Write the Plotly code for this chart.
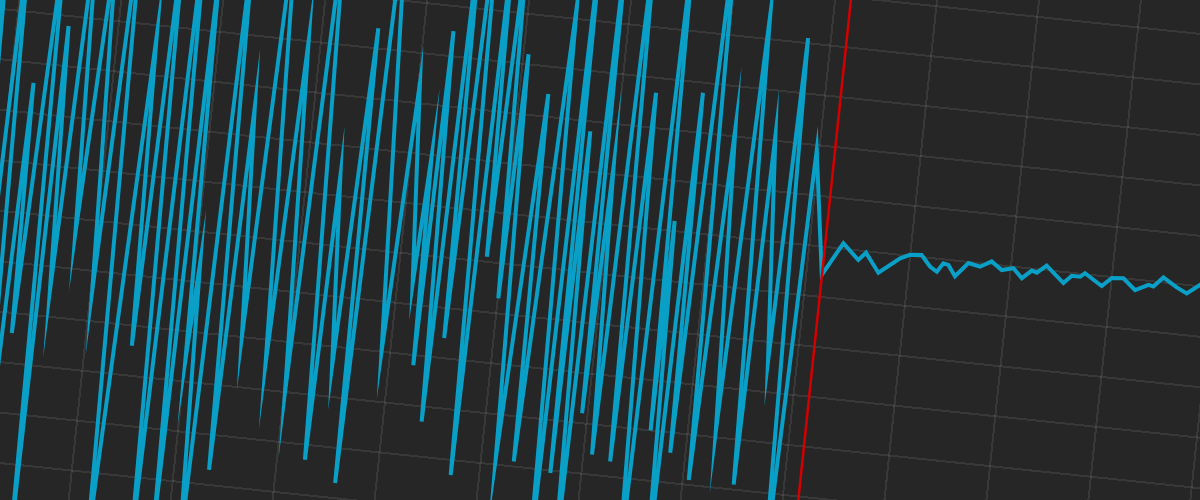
import plotly.graph_objects as go

# noisy history up to the split, then the flat forecast after it
hist_x = [94.2, 96.7, 98.8, 100.8, 102.8, 104.5, 105.4, 107.9, 109.4, 110.2,
          112.0, 113.9, 115.8, 118.0, 120.3, 122.5, 124.5, 127.7, 129.2, 131.1,
          133.1, 135.2, 137.2, 138.7, 140.0, 140.9, 142.7, 144.8, 146.9, 148.4,
          150.6, 152.8, 155.8, 157.6, 160.2, 162.4, 165.5, 166.6, 168.9, 171.0,
          171.9, 174.1, 178.3, 180.3, 183.0, 184.1, 184.8, 185.8, 187.6, 189.2,
          190.3, 192.3, 194.4, 195.8, 197.0, 198.6, 200.1, 201.0, 202.9, 205.7,
          206.5, 209.5, 211.5, 213.0, 213.9, 214.7, 216.5, 218.1, 218.9, 220.0,
          221.7, 223.6, 225.4, 226.8, 229.2, 231.2, 232.7, 233.1, 234.7, 236.0,
          237.0, 239.3, 241.2, 243.1, 245.5, 247.6, 250.1, 251.1, 254.3, 255.5,
          257.8, 259.5]
hist_y = [-8.0, 4.5, -7.5, 5.0, -7.0, 1.6, -3.4, 4.8, -7.5, 2.8,
          -2.5, 5.0, -1.3, 4.5, -2.4, 5.5, -7.5, 2.8, -3.4, 5.0,
          -7.5, 5.5, -7.0, 4.5, -3.6, -1.6, -7.5, 5.0, -5.7, 1.6,
          -3.0, 5.5, -3.5, 3.0, -4.0, 5.5, -5.3, 0.4, -3.4, 3.4,
          -5.7, 6.0, -3.0, 2.4, -1.6, 1.0, -3.2, 3.5, -4.3, 6.0,
          -2.6, 6.5, -5.3, 5.5, -0.9, 5.5, -1.7, 3.2, -4.9, 2.45,
          -4.9, 4.3, -7.0, 6.0, -5.05, 1.8, -7.0, 6.0, -3.8, 1.2,
          -4.6, 6.0, -4.7, 2.7, -7.0, 6.0, -4.0, 0.2, -7.0, 2.8,
          -4.4, 6.5, -4.9, 2.2, -3.9, 4.5, -4.9, 2.1, -2.4, 4.1,
          -6.5, 1.9]

fc_x = [263.06, 266.65, 269.92, 271.28, 274.12, 276.2, 278.1, 279.96, 282.25, 284.12,
        285.56, 286.67, 287.69, 289.21, 291.58, 293.93, 296.11, 298.26, 300.49, 302.37,
        304.16, 305.19, 306.98, 310.63, 312.11, 313.77, 314.65, 318.2, 320.02, 322.29,
        324.83, 327.34, 328.34, 330.12, 332.94, 335.03, 337.48, 340.0, 343.0, 346.0]
fc_y = [-0.56, 0.11, -0.19, -0.03, -0.40, -0.22, -0.07, 0.02, 0.04, -0.17,
        -0.26, -0.08, -0.10, -0.31, -0.02, -0.07, 0.06, -0.09, -0.03, -0.21,
        -0.04, -0.07, 0.09, -0.22, -0.06, -0.06, 0.02, -0.20, -0.02, 0.00,
        -0.21, -0.08, -0.10, 0.10, -0.07, -0.17, 0.03, -0.05, 0.03, -0.06]

split_x = 263.1

x_range = [81.0, 357.1]
y_range = [-8.10, 7.04]

bg = '#262626'
line_color = '#0a9fc6'

fig = go.Figure()
fig.add_trace(go.Scatter(x=hist_x + fc_x, y=hist_y + fc_y, mode='lines',
                         line=dict(color=line_color, width=4),
                         showlegend=False, hoverinfo='skip'))

fig.add_shape(type='line', xref='x', yref='paper', x0=split_x, x1=split_x,
              y0=0, y1=1, line=dict(color='#d40000', width=2.5))

grid = dict(showgrid=True, gridcolor='rgba(255,255,255,0.085)', gridwidth=1.5,
            zeroline=False, showticklabels=False, ticks='', showline=False)

fig.update_layout(
    width=1400, height=760,
    margin=dict(l=0, r=0, t=0, b=0),
    paper_bgcolor=bg, plot_bgcolor=bg,
    xaxis=dict(range=x_range, tick0=0, dtick=20, **grid),
    yaxis=dict(range=y_range, tick0=0, dtick=1, **grid),
)

# the picture is the plot turned slightly clockwise and cropped to the window,
# with sharp (mitred) corners on the series line
tilt = (
    "var gd = document.getElementById('{plot_id}');"
    "document.body.style.margin = '0';"
    "document.body.style.overflow = 'hidden';"
    "document.body.style.background = '" + bg + "';"
    "gd.style.position = 'absolute';"
    "gd.style.left = '-100px';"
    "gd.style.top = '-130px';"
    "gd.style.transform = 'rotate(6deg)';"
    "gd.querySelectorAll('path.js-line').forEach(function (p) {"
    "  p.style.strokeLinejoin = 'miter';"
    "  p.style.strokeMiterlimit = '40';"
    "});"
)

fig.write_html("out.html", post_script=tilt, config={'displayModeBar': False})
